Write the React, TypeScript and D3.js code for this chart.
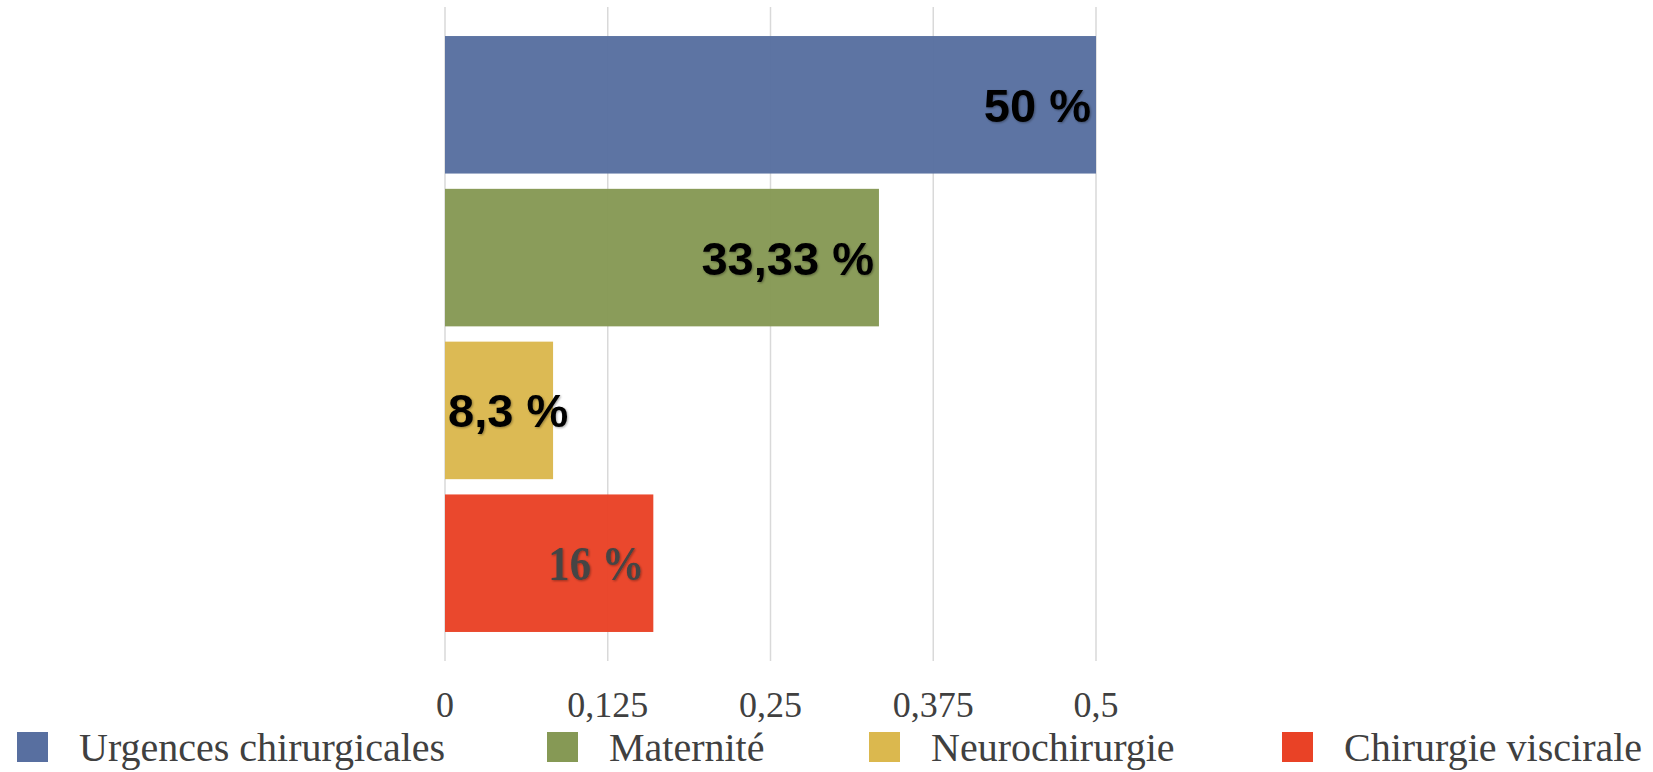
import { useEffect, useRef } from 'react';
import * as d3 from 'd3';

const categories = ['Urgences chirurgicales', 'Maternité', 'Neurochirurgie', 'Chirurgie viscirale'];
const values = [0.5, 0.3333, 0.083, 0.16];
const valueLabels = ['50 %', '33,33 %', '8,3 %', '16 %'];
const colors = ['#586fa0', '#869955', '#dbb84e', '#e94226'];
const tickValues = [0, 0.125, 0.25, 0.375, 0.5];
const tickLabels = ['0', '0,125', '0,25', '0,375', '0,5'];

export default function App() {
  const chartRef = useRef<SVGSVGElement>(null);

  useEffect(() => {
    createChart();
  }, []);

  const createChart = () => {
    const svg = d3.select(chartRef.current);
    svg.selectAll('*').remove();

    const left = 445;
    const right = 1096;
    const top = 7;
    const bottom = 661;

    const x = d3.scaleLinear().domain([0, 0.5]).range([left, right]);
    const y = d3.scaleBand<string>()
      .domain(categories)
      .range([top, bottom])
      .paddingInner(0.1)
      .paddingOuter(0.19);

    const defs = svg.append('defs');
    const f = defs.append('filter').attr('id', 'shadow')
      .attr('x', '-10%').attr('y', '-20%').attr('width', '130%').attr('height', '150%');
    f.append('feDropShadow')
      .attr('dx', 1).attr('dy', 1).attr('stdDeviation', 1.2)
      .attr('flood-color', '#000').attr('flood-opacity', 0.35);

    // gridlines
    svg.append('g')
      .selectAll('line')
      .data(tickValues)
      .enter().append('line')
      .attr('x1', d => x(d)).attr('x2', d => x(d))
      .attr('y1', top).attr('y2', bottom)
      .attr('stroke', '#d9d9d9')
      .attr('stroke-width', 1.5);

    // bars
    svg.append('g')
      .selectAll('rect')
      .data(categories)
      .enter().append('rect')
      .attr('x', x(0))
      .attr('y', d => y(d)!)
      .attr('width', (d, i) => x(values[i]) - x(0))
      .attr('height', y.bandwidth())
      .attr('fill', (d, i) => colors[i])
      .attr('fill-opacity', 0.97);

    // value labels
    const labels = svg.append('g');
    categories.forEach((c, i) => {
      const cy = y(c)! + y.bandwidth() / 2;
      const barW = x(values[i]) - x(0);
      const serif = i === 3;
      const t = labels.append('text')
        .attr('y', cy)
        .attr('dy', '0.36em')
        .attr('font-weight', 'bold')
        .attr('filter', 'url(#shadow)')
        .text(valueLabels[i]);
      if (serif) {
        t.attr('font-family', '"Liberation Serif", serif')
          .attr('font-size', 48)
          .attr('fill', '#444444')
          .attr('x', x(values[i]) - 9)
          .attr('text-anchor', 'end')
          .attr('textLength', 96)
          .attr('lengthAdjust', 'spacingAndGlyphs');
      } else {
        t.attr('font-family', '"Liberation Sans", Arial, sans-serif')
          .attr('font-size', 47)
          .attr('fill', '#000');
        if (barW < 130) {
          t.attr('x', x(0) + 3).attr('text-anchor', 'start');
        } else {
          t.attr('x', x(values[i]) - 5).attr('text-anchor', 'end');
        }
      }
    });

    // axis tick labels
    svg.append('g')
      .selectAll('text')
      .data(tickValues)
      .enter().append('text')
      .attr('x', d => x(d))
      .attr('y', 717)
      .attr('text-anchor', 'middle')
      .attr('font-family', '"Liberation Serif", serif')
      .attr('font-size', 36)
      .attr('fill', '#404040')
      .text((d, i) => tickLabels[i]);

    // legend
    const legendX = [17, 547, 869, 1282];
    const lg = svg.append('g');
    categories.forEach((c, i) => {
      lg.append('rect')
        .attr('x', legendX[i])
        .attr('y', 732)
        .attr('width', 31)
        .attr('height', 30)
        .attr('fill', colors[i]);
      lg.append('text')
        .attr('x', legendX[i] + 62)
        .attr('y', 761)
        .attr('font-family', '"Liberation Serif", serif')
        .attr('font-size', 40)
        .attr('fill', '#404040')
        .text(c);
    });
  };

  return (
    <svg
      ref={chartRef}
      width="1653"
      height="772"
      style={{ position: 'absolute', left: 0, top: 0, background: '#fff' }}
    ></svg>
  );
}
